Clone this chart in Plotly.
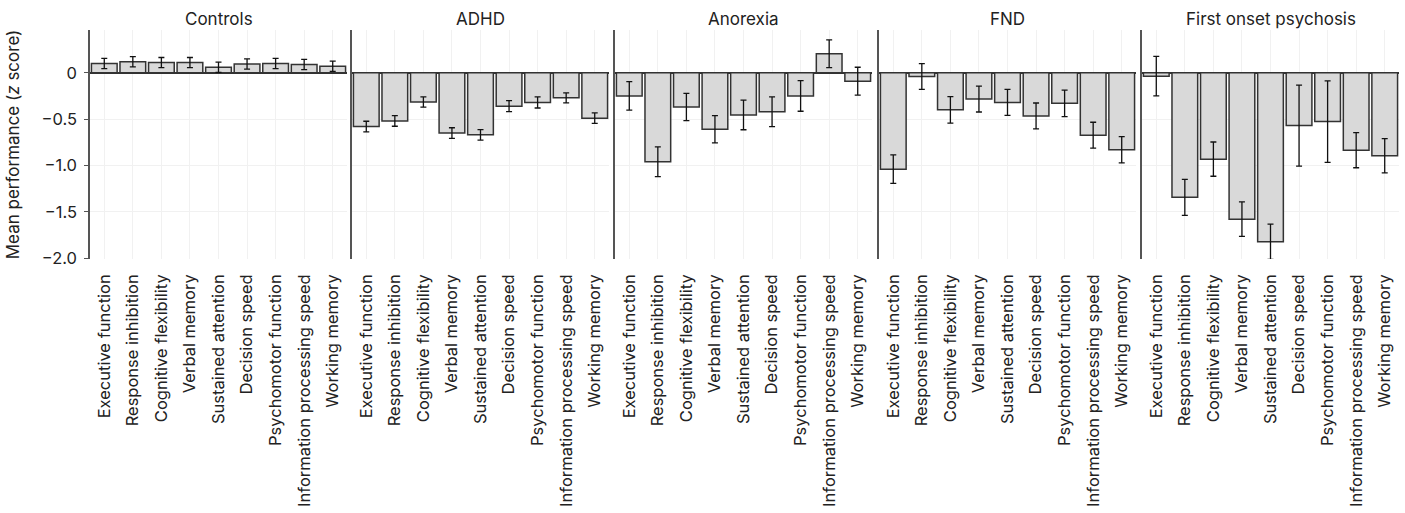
import plotly.graph_objects as go

categories = ["Executive function", "Response inhibition", "Cognitive flexibility",
              "Verbal memory", "Sustained attention", "Decision speed",
              "Psychomotor function", "Information processing speed", "Working memory"]
groups = ["Controls", "ADHD", "Anorexia", "FND", "First onset psychosis"]

controls = [0.10, 0.12, 0.11, 0.11, 0.06, 0.095, 0.10, 0.09, 0.07]
controls_err = [0.055, 0.055, 0.055, 0.055, 0.055, 0.055, 0.055, 0.055, 0.055]
adhd = [-0.58, -0.52, -0.315, -0.65, -0.67, -0.36, -0.32, -0.27, -0.49]
adhd_err = [0.057, 0.057, 0.056, 0.057, 0.057, 0.06, 0.06, 0.054, 0.057]
anorexia = [-0.25, -0.96, -0.37, -0.61, -0.455, -0.42, -0.25, 0.205, -0.09]
anorexia_err = [0.154, 0.16, 0.147, 0.147, 0.16, 0.16, 0.165, 0.15, 0.15]
fnd = [-1.04, -0.04, -0.40, -0.283, -0.32, -0.466, -0.33, -0.674, -0.83]
fnd_err = [0.154, 0.14, 0.143, 0.14, 0.14, 0.14, 0.143, 0.14, 0.142]
psychosis = [-0.036, -1.344, -0.932, -1.58, -1.824, -0.57, -0.527, -0.835, -0.896]
psychosis_err = [0.213, 0.194, 0.185, 0.186, 0.19, 0.437, 0.44, 0.19, 0.185]

values = [controls, adhd, anorexia, fnd, psychosis]
errors = [controls_err, adhd_err, anorexia_err, fnd_err, psychosis_err]

y_tickvals = [-2.0, -1.5, -1.0, -0.5, 0]
y_ticktext = ["\u22122.0", "\u22121.5", "\u22121.0", "\u22120.5", "0"]

W, H = 1405, 513
ml, mr, mt, mb = 90, 5, 30, 254
pw = W - ml - mr
lefts = [0, 262, 525, 789, 1052]
width = 257

FONT = "Inter"
TXT = "#222222"
FS = 17
FT = 16.5
fig = go.Figure()
layout = {}
for i, (g, v, e) in enumerate(zip(groups, values, errors)):
    n = "" if i == 0 else str(i + 1)
    fig.add_trace(go.Bar(
        x=categories, y=v,
        error_y=dict(type="data", array=e, visible=True, color="#111111",
                     thickness=1.3, width=3),
        marker=dict(color="#d9d9d9", line=dict(color="#333333", width=1.5)),
        xaxis="x" + n, yaxis="y" + n, showlegend=False,
    ))
    d0 = lefts[i] / pw
    d1 = (lefts[i] + width) / pw
    layout["xaxis" + n] = dict(
        domain=[d0, d1], anchor="y" + n, range=[-0.5, 8.5],
        tickangle=-90, showgrid=True, gridcolor="#f1f1f1", gridwidth=1,
        showline=False, ticks="", ticklabelstandoff=11,
        tickfont=dict(size=FT, color=TXT, family=FONT),
        automargin=False,
    )
    layout["yaxis" + n] = dict(
        domain=[0, 1], anchor="x" + n, range=[-2.01, 0.462],
        tickvals=y_tickvals, ticktext=y_ticktext,
        showticklabels=(i == 0), ticks="outside" if i == 0 else "", ticklen=4,
        tickcolor="#555", ticklabelstandoff=4,
        tickfont=dict(size=FT, color=TXT, family=FONT),
        showgrid=True, gridcolor="#f1f1f1", gridwidth=1,
        showline=True, linecolor="#555555", linewidth=1.5,
        zeroline=True, zerolinecolor="#333333", zerolinewidth=2,
        automargin=False,
    )
    if i == 0:
        layout["yaxis"]["title"] = dict(text="Mean performance (<i>z</i> score)",
                                        font=dict(size=FS, color=TXT, family=FONT),
                                        standoff=18)
    fig.add_annotation(text=g, x=(d0 + d1) / 2, y=1.0, xref="paper", yref="paper",
                       xanchor="center", yanchor="bottom", yshift=-1, showarrow=False,
                       font=dict(size=FS, color=TXT, family=FONT))

fig.update_layout(
    width=W, height=H,
    margin=dict(l=ml, r=mr, t=mt, b=mb),
    paper_bgcolor="white", plot_bgcolor="white",
    bargap=0.1, font=dict(family=FONT, size=FS, color=TXT),
    **layout,
)
fig.write_html("out.html", config={"displayModeBar": False},
               post_script="document.body.style.margin='0';document.body.style.overflow='hidden';")
